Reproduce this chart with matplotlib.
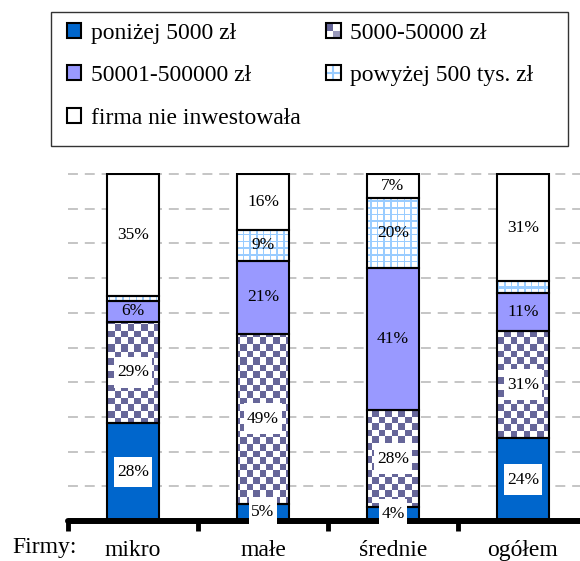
import numpy as np
import matplotlib
matplotlib.use('Agg')
import matplotlib.pyplot as plt
from matplotlib.patches import Patch, Rectangle
from matplotlib.lines import Line2D
from matplotlib.legend_handler import HandlerBase
from matplotlib.colors import to_rgb
from matplotlib.path import Path

plt.rcParams['font.family'] = ['Liberation Serif', 'DejaVu Serif']

# dane (%)
firms = ['mikro', 'małe', 'średnie', 'ogółem']
series_names = ['poniżej 5000 zł', '5000-50000 zł', '50001-500000 zł',
                'powyżej 500 tys. zł', 'firma nie inwestowała']
below_5k = [28, 5, 4, 24]
from_5k_to_50k = [29, 49, 28, 31]
from_50k_to_500k = [6, 21, 41, 11]
above_500k = [1.2, 9, 20, 3.5]
no_investment = [35, 16, 7, 31]

BLUE = '#0066cc'
CHECK = '#666699'
PURPLE = '#9999ff'
LIGHT = '#99ccff'


def pattern_img(kind, w, h):
    yy, xx = np.mgrid[0:h, 0:w]
    if kind == 'checker':
        on = ((xx / 6.6).astype(int) + (yy / 6.6).astype(int)) % 2 == 0
        col = CHECK
    else:
        on = ((xx % 6.7) < 1.6) | ((yy % 6.7) < 1.6)
        col = LIGHT
    img = np.ones((h, w, 3))
    img[on] = to_rgb(col)
    return img


def label_box(x0, y0, width, height, mutation_size):
    # prostokat z wiekszym marginesem w pionie (jak w Excelu)
    px, py = 0.16 * mutation_size, 0.42 * mutation_size
    x0, y0 = x0 - px, y0 - py
    x1, y1 = x0 + width + 2 * px, y0 + height + 2 * py
    return Path([(x0, y0), (x1, y0), (x1, y1), (x0, y1), (x0, y0)], closed=True)


class PatternHandler(HandlerBase):
    def __init__(self, kind):
        super().__init__()
        self.kind = kind

    def create_artists(self, legend, orig_handle, xdescent, ydescent,
                       width, height, fontsize, trans):
        x0, y0 = -xdescent, -ydescent
        arts = [Rectangle((x0, y0), width, height, facecolor='white',
                          edgecolor='none', transform=trans)]
        if self.kind == 'checker':
            arts.append(Rectangle((x0, y0 + height / 2), width / 2, height / 2,
                                  facecolor=CHECK, edgecolor='none', transform=trans))
            arts.append(Rectangle((x0 + width / 2, y0), width / 2, height / 2,
                                  facecolor='#9999bb', edgecolor='none', transform=trans))
        else:
            arts.append(Line2D([x0, x0 + width], [y0 + height / 2] * 2,
                               color=LIGHT, lw=1.5, transform=trans))
            arts.append(Line2D([x0 + width / 2] * 2, [y0, y0 + height],
                               color=LIGHT, lw=1.5, transform=trans))
        arts.append(Rectangle((x0, y0), width, height, facecolor='none',
                              edgecolor='black', lw=1.5, transform=trans))
        return arts


data = np.array([below_5k, from_5k_to_50k, from_50k_to_500k, above_500k, no_investment], dtype=float)
shares = data / data.sum(axis=0) * 100

fig = plt.figure(figsize=(5.8, 5.61), dpi=100)
ax = fig.add_axes([68 / 580, 40 / 561, 512 / 580, 348 / 561])
ax.set_xlim(-0.5, -0.5 + 512 / 130)
ax.set_ylim(0, 100.3)

x = np.arange(len(firms))
width = 0.4
colors = [BLUE, 'white', PURPLE, 'white', 'white']
kinds = [None, 'checker', None, 'grid', None]

bottoms = np.zeros(len(firms))
bw, bh = 512, 348
for i in range(len(series_names)):
    bars = ax.bar(x, shares[i], bottom=bottoms, width=width, color=colors[i],
                  edgecolor='none', zorder=2)
    if kinds[i] is not None:
        img = pattern_img(kinds[i], bw, bh)
        for p in bars.patches:
            im = ax.imshow(img, extent=(ax.get_xlim()[0], ax.get_xlim()[1], 0, 100.3),
                           origin='upper', interpolation='nearest', aspect='auto', zorder=2.1)
            im.set_clip_path(p)
    ax.bar(x, shares[i], bottom=bottoms, width=width, fill=False,
           edgecolor='black', lw=1.5, zorder=2.2)
    for j in range(len(firms)):
        if data[i, j] >= 4:
            box = None
            if i in (0, 1):
                box = dict(facecolor='white', edgecolor='none', boxstyle=label_box)
            ax.text(x[j], bottoms[j] + shares[i, j] / 2, f'{data[i, j]:.0f}%',
                    ha='center', va='center', fontsize=12.5, bbox=box, zorder=4)
    bottoms += shares[i]

ax.set_xlim(-0.5, -0.5 + 512 / 130)
ax.set_ylim(0, 100.3)

ax.set_yticks(range(10, 101, 10))
ax.yaxis.grid(True, color='#b5b5b5', lw=1.1, ls=(0, (6.5, 4.5)))
ax.tick_params(axis='y', length=0, labelleft=False)
ax.set_axisbelow(True)

for s in ['top', 'left', 'right']:
    ax.spines[s].set_visible(False)
ax.spines['bottom'].set_linewidth(4.3)
ax.spines['bottom'].set_capstyle('round')

ax.set_xticks(x)
ax.set_xticklabels(firms, fontsize=17)
ax.tick_params(axis='x', which='major', length=0, pad=14)
ax.set_xticks(x - 0.5, minor=True)
ax.tick_params(axis='x', which='minor', length=7, width=3.5, direction='out')

fig.text(12 / 580, 1 - 553 / 561, 'Firmy:', fontsize=17, va='baseline')

# ramka legendy
fig.patches.append(Rectangle((51 / 580, 1 - 146 / 561), 517 / 580, 134 / 561,
                             transform=fig.transFigure, facecolor='white',
                             edgecolor='#333333', lw=1.0, zorder=0))

h_blue = Patch(facecolor=BLUE, edgecolor='black', lw=1.5)
h_check = Patch(facecolor='white')
h_purple = Patch(facecolor=PURPLE, edgecolor='black', lw=1.5)
h_grid = Patch(facecolor='white')
h_white = Patch(facecolor='white', edgecolor='black', lw=1.5)
handles = [h_blue, h_purple, h_white, h_check, h_grid]
labels = [series_names[0], series_names[2], series_names[4], series_names[1], series_names[3]]
leg = fig.legend(handles, labels, loc='upper left',
                 bbox_to_anchor=(67 / 580, 1 - 23 / 561),
                 ncol=2, fontsize=17, frameon=False,
                 handlelength=0.6, handleheight=0.6, handletextpad=0.4,
                 labelspacing=0.9, borderpad=0, borderaxespad=0, columnspacing=1.1,
                 handler_map={h_check: PatternHandler('checker'), h_grid: PatternHandler('grid')})

fig.savefig('out.png', dpi=100)
